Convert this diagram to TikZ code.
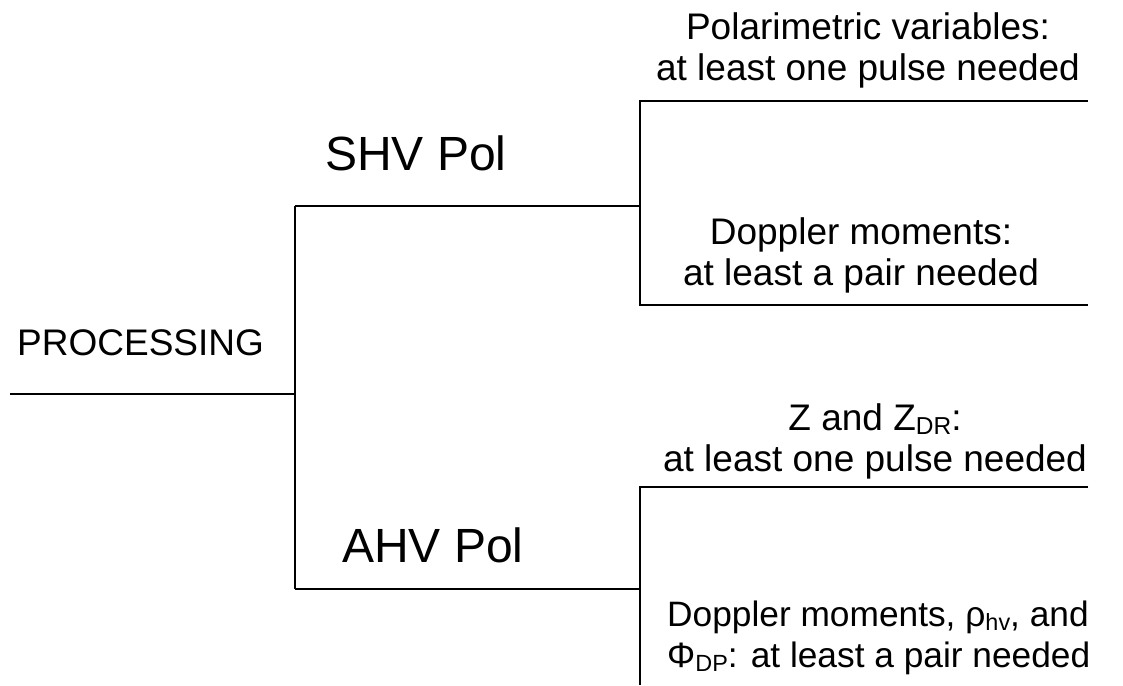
\documentclass[tikz,border=0pt]{standalone}
\usepackage{fontspec}
\setmainfont{Liberation Sans}
\newcommand\lowsub[2][24.5]{\raisebox{-0.12em}{\fontsize{#1}{#1}\selectfont #2}}
\begin{document}
\begin{tikzpicture}[x=1pt,y=-1pt,
  wire/.style={line width=1.8pt},
  small/.style={font=\fontsize{37}{41}\selectfont, inner sep=0pt, align=center},
  smaller/.style={font=\fontsize{35.3}{41}\selectfont, inner sep=0pt, align=left},
  big/.style={font=\fontsize{48}{52}\selectfont, inner sep=0pt}]
\useasboundingbox (0,0) rectangle (1123,685);
% junctions
\coordinate (rootin) at (10,394);
\coordinate (rootj) at (295,394);
\coordinate (shvj) at (295,206);
\coordinate (ahvj) at (295,589);
\coordinate (shve) at (640,206);
\coordinate (ahve) at (640,589);
\coordinate (pvs) at (640,101);
\coordinate (pve) at (1088,101);
\coordinate (dms) at (640,305);
\coordinate (dme) at (1088,305);
\coordinate (zs) at (640,487);
\coordinate (ze) at (1088,487);
\coordinate (bot) at (640,685);
% connectors
\draw[wire] (rootin) -- (rootj);
\draw[wire] (shvj) -- (ahvj);
\draw[wire] (shvj) -- (shve);
\draw[wire] (ahvj) -- (ahve);
\draw[wire] (pve) -- (pvs) -- (dms) -- (dme);
\draw[wire] (ze) -- (zs) -- (bot);
% labels
\node[small, anchor=base west] (proc) at (17,355) {PROCESSING};
\node[big, anchor=base west] (shv) at (325,170) {SHV Pol};
\node[big, anchor=base west] (ahv) at (342,562) {AHV Pol};
\node[small, anchor=base] (pv) at (868,81) {Polarimetric variables:\\at least one pulse needed};
\node[small, anchor=base] (dm) at (861,285) {Doppler moments:\\at least a pair needed};
\node[small, anchor=base] (zz) at (875,471) {Z and Z\lowsub{DR}:\\at least one pulse needed};
\node[smaller, anchor=base west] (dmr) at (667,667) {Doppler moments, ρ\lowsub[23.4]{hv}, and\\Φ\lowsub[23.4]{DP}: at least a pair needed};
\end{tikzpicture}
\end{document}
